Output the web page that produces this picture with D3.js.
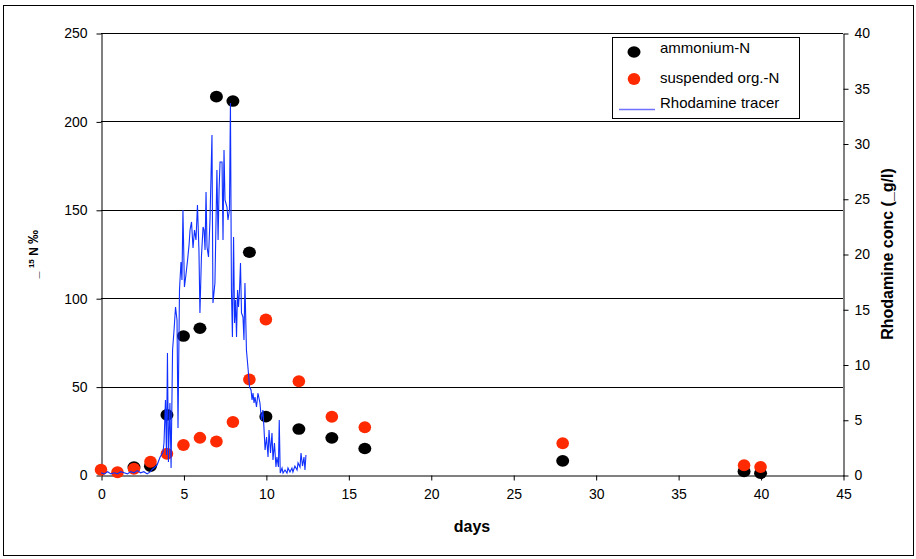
<!DOCTYPE html>
<html><head><meta charset="utf-8">
<script src="https://cdn.jsdelivr.net/npm/d3@7"></script>
<style>
body{margin:0;background:#fff;}
svg{display:block;font-family:"Liberation Sans",Arial,sans-serif;}
</style></head><body>
<svg id="c" width="916" height="559"></svg>
<script>
// ---- data ----
const ammoniumDays = [2, 3, 4, 5, 6, 7, 8, 9, 10, 12, 14, 16, 28, 39, 40];
const ammoniumVals = [4.5, 5, 34, 78.6, 83, 214, 211.5, 126, 33, 26, 21, 15, 8, 2, 1];
const orgNDays = [0, 1, 2, 3, 4, 5, 6, 7, 8, 9, 10, 12, 14, 16, 28, 39, 40];
const orgNVals = [3, 1.5, 3.5, 7.5, 12, 17, 21, 19, 30, 54, 88, 53, 33, 27, 18, 5.5, 4.5];
const rhodDays = [0,0.2,0.4,0.6,0.8,1.0,1.2,1.4,1.6,1.8,2.0,2.2,2.4,2.6,2.8,3.0,3.1,3.4,3.58,
 3.76,3.82,3.91,3.97,4.03,4.09,4.18,4.25,4.34,4.43,4.52,4.61,4.67,4.76,4.85,4.91,4.97,5.06,5.15,5.25,
 5.34,5.40,5.49,5.58,5.67,5.76,5.85,5.94,6.00,6.09,6.19,6.25,6.31,6.37,6.43,6.52,6.61,6.73,6.79,6.91,
 7.03,7.10,7.16,7.22,7.34,7.40,7.46,7.52,7.64,7.70,7.79,7.85,7.91,7.97,8.04,8.10,8.16,8.22,8.28,8.34,
 8.40,8.46,8.52,8.61,8.67,8.73,8.82,8.91,9.01,9.10,9.16,9.22,9.28,9.34,9.43,9.52,9.64,9.73,9.82,9.88,
 9.95,10.04,10.13,10.19,10.28,10.37,10.43,10.52,10.61,10.67,10.76,10.81,10.87,10.98,11.04,11.16,11.28,
 11.34,11.46,11.58,11.64,11.76,11.89,11.95,12.07,12.13,12.22,12.31,12.37,12.43];
const rhodVals = [0.2,0.1,0.3,0.1,0.2,0.1,0.3,0.2,0.1,0.3,0.2,0.4,0.2,0.3,0.1,0.3,0.5,0.9,1.6,
 2.08,2.90,6.79,1.81,11.04,1.18,6.52,0.63,11.31,13.12,15.20,14.03,4.25,16.74,19.28,17.65,23.98,17.01,18.10,19.46,
 20.82,22.17,22.90,20.54,22.17,21.27,24.43,20.36,14.66,19.73,22.44,22.17,20.36,25.61,20.63,19.73,23.08,30.77,15.57,17.38,
 27.60,21.27,25.79,28.33,28.33,21.27,29.41,24.89,24.25,23.08,23.98,33.67,16.74,12.49,21.54,13.76,15.84,12.49,16.74,15.20,
 16.74,19.19,14.66,14.30,12.22,17.38,11.31,9.77,7.96,7.69,6.79,7.42,6.52,7.06,6.15,7.42,6.52,4.98,5.88,4.34,
 2.26,3.44,1.63,4.07,1.99,3.80,1.36,2.90,0.72,1.63,0.72,4.98,0.18,0.63,0.18,0.45,0.18,
 0.63,0.27,0.63,0.27,0.81,0.45,1.09,0.72,1.99,0.81,1.63,0.45,1.81];
const xTicks = [0,5,10,15,20,25,30,35,40,45];
const yLeftTicks = [0,50,100,150,200,250];
const yRightTicks = [0,5,10,15,20,25,30,35,40];
const legendLabels = ["ammonium-N","suspended org.-N","Rhodamine tracer"];

// ---- layout ----
const svg = d3.select("#c");
const x = d3.scaleLinear().domain([0,45]).range([101,843]);
const yL = d3.scaleLinear().domain([0,250]).range([475,33]);
const yR = d3.scaleLinear().domain([0,40]).range([475,33]);
const BLACK="#000", RED="#ff2a00", BLUE="#1030ff";

// outer frame
svg.append("rect").attr("x",3.5).attr("y",5.5).attr("width",910).attr("height",550)
  .attr("fill","none").attr("stroke","#000").attr("stroke-width",1);

// gridlines
svg.append("g").selectAll("line").data(yLeftTicks.filter(d=>d>0)).join("line")
  .attr("x1",x(0)).attr("x2",x(45))
  .attr("y1",d=>Math.round(yL(d))+0.5).attr("y2",d=>Math.round(yL(d))+0.5)
  .attr("stroke","#000").attr("stroke-width",1);

function styleAxis(g){
  g.selectAll("text").attr("font-size","14px").attr("fill","#000")
   .attr("font-family",'"Liberation Sans",Arial,sans-serif');
  g.selectAll("line,path").attr("stroke","#000");
}
svg.append("g").attr("transform","translate(101.5,0.5)")
  .call(d3.axisLeft(yL).tickValues(yLeftTicks).tickSize(5).tickSizeOuter(0).tickPadding(9))
  .call(styleAxis);
svg.append("g").attr("transform","translate(843.5,0.5)")
  .call(d3.axisRight(yR).tickValues(yRightTicks).tickSize(5).tickSizeOuter(0).tickPadding(6))
  .call(styleAxis);
svg.append("g").attr("transform","translate(0.5,475.5)")
  .call(d3.axisBottom(x).tickValues(xTicks).tickSize(5).tickSizeOuter(0).tickPadding(9))
  .call(styleAxis);

// titles
svg.append("text").attr("x",472).attr("y",532).attr("text-anchor","middle")
  .attr("font-size","16px").attr("font-weight","bold").text("days");
const lt = svg.append("text").attr("transform","translate(38,254) rotate(-90)")
  .attr("text-anchor","middle").attr("font-weight","bold").attr("font-size","12px");
lt.append("tspan").text("_ ");
lt.append("tspan").attr("font-size","8px").attr("dy",-4).text("15");
lt.append("tspan").attr("dy",4).text(" N  ");
lt.append("tspan").attr("font-size","14px").text("‰");
svg.append("text").attr("transform","translate(893,254) rotate(-90)")
  .attr("text-anchor","middle").attr("font-weight","bold").attr("font-size","16px")
  .text("Rhodamine conc (_g/l)");

// markers
const amm = ammoniumDays.map((d,i)=>({d, v:ammoniumVals[i]}));
const org = orgNDays.map((d,i)=>({d, v:orgNVals[i]}));
svg.append("g").selectAll("ellipse").data(amm).join("ellipse")
  .attr("cx",p=>x(p.d)).attr("cy",p=>yL(p.v)).attr("rx",6.5).attr("ry",5.8).attr("fill",BLACK);
svg.append("g").selectAll("ellipse").data(org).join("ellipse")
  .attr("cx",p=>x(p.d)).attr("cy",p=>yL(p.v)).attr("rx",6.3).attr("ry",6).attr("fill",RED);

// rhodamine line
const rh = rhodDays.map((d,i)=>[d, rhodVals[i]]);
svg.append("path").datum(rh)
  .attr("d", d3.line().x(p=>x(p[0])).y(p=>yR(p[1])))
  .attr("fill","none").attr("stroke",BLUE).attr("stroke-width",1.1);

// legend
const lg = svg.append("g");
lg.append("rect").attr("x",612.5).attr("y",37.5).attr("width",187).attr("height",81)
  .attr("fill","#fff").attr("stroke","#000");
lg.append("ellipse").attr("cx",634).attr("cy",52).attr("rx",6.5).attr("ry",5.8).attr("fill",BLACK);
lg.append("ellipse").attr("cx",634).attr("cy",79).attr("rx",6.3).attr("ry",6).attr("fill",RED);
lg.append("line").attr("x1",619).attr("x2",655).attr("y1",109.5).attr("y2",109.5)
  .attr("stroke","#7070ff").attr("stroke-width",1.5);
lg.selectAll("text").data(legendLabels).join("text")
  .attr("x",660).attr("y",(d,i)=>[53,83,108][i]).attr("font-size","15px").text(d=>d);
</script>
</body></html>
